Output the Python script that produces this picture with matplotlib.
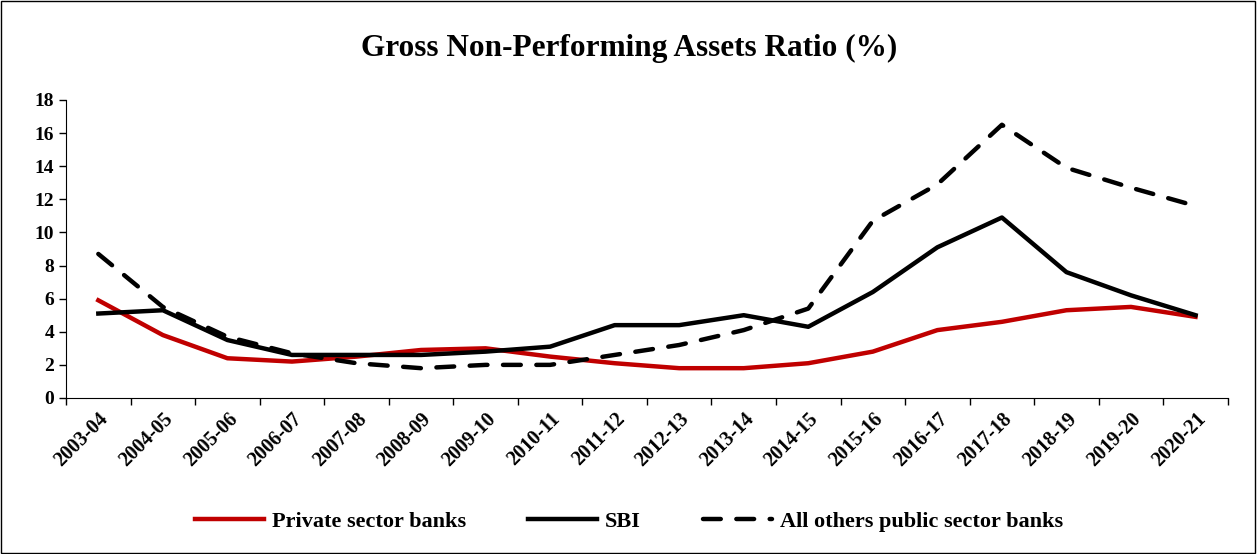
import matplotlib.pyplot as plt
from matplotlib.patches import Rectangle

years = ["2003-04", "2004-05", "2005-06", "2006-07", "2007-08", "2008-09",
         "2009-10", "2010-11", "2011-12", "2012-13", "2013-14", "2014-15",
         "2015-16", "2016-17", "2017-18", "2018-19", "2019-20", "2020-21"]
private = [5.9, 3.8, 2.4, 2.2, 2.5, 2.9, 3.0, 2.5, 2.1, 1.8, 1.8, 2.1,
           2.8, 4.1, 4.6, 5.3, 5.5, 4.9]
sbi = [5.1, 5.3, 3.5, 2.6, 2.6, 2.6, 2.8, 3.1, 4.4, 4.4, 5.0, 4.3,
       6.4, 9.1, 10.9, 7.6, 6.2, 5.0]
others = [8.7, 5.5, 3.7, 2.7, 2.1, 1.8, 2.0, 2.0, 2.6, 3.2, 4.1, 5.4,
          10.7, 12.9, 16.5, 13.9, 12.7, 11.6]

plt.rcParams['font.family'] = ['Liberation Serif', 'DejaVu Serif']

fig = plt.figure(figsize=(12.58, 5.54), dpi=100)
ax = fig.add_axes([0.0525, 0.2816, 0.9235, 0.538])

x = list(range(len(years)))
ax.plot(x, private, color='#C00000', lw=3.2, label="Private sector banks")
ax.plot(x, sbi, color='black', lw=3.2, label="SBI")
ax.plot(x, others, color='black', lw=3.2, ls=(0, (4, 3.5)), dash_capstyle='round',
        label="All others public sector banks")

ax.set_xlim(-0.5, len(years) - 0.5)
ax.set_ylim(0, 18)
ax.set_yticks(range(0, 19, 2))
ax.set_xticks(x)
ax.set_xticklabels(years, rotation=45, ha='right', rotation_mode='anchor',
                   fontweight='bold', fontsize=14.5)
ax.set_xticks([i - 0.5 for i in range(len(years) + 1)], minor=True)
ax.tick_params(axis='x', which='major', length=0, pad=8)
ax.tick_params(axis='x', which='minor', length=5, direction='out', width=1)
ax.tick_params(axis='y', length=5, direction='out', width=1, labelsize=14)
for lab in ax.get_yticklabels():
    lab.set_fontweight('bold')
ax.spines['top'].set_visible(False)
ax.spines['right'].set_visible(False)

fig.text(0.5, 0.913, "Gross Non-Performing Assets Ratio (%)", ha='center',
         va='center', fontsize=22.5, fontweight='bold')

fig.legend(loc='center', bbox_to_anchor=(0.5, 0.058), ncol=3, frameon=False,
           prop={'weight': 'bold', 'size': 16}, handlelength=3.1,
           handletextpad=0.35, columnspacing=2.8)

fig.patches.append(Rectangle((0.001, 0.002), 0.997, 0.996, transform=fig.transFigure,
                             fill=False, edgecolor='black', lw=1))

fig.savefig("out.png", dpi=100)
